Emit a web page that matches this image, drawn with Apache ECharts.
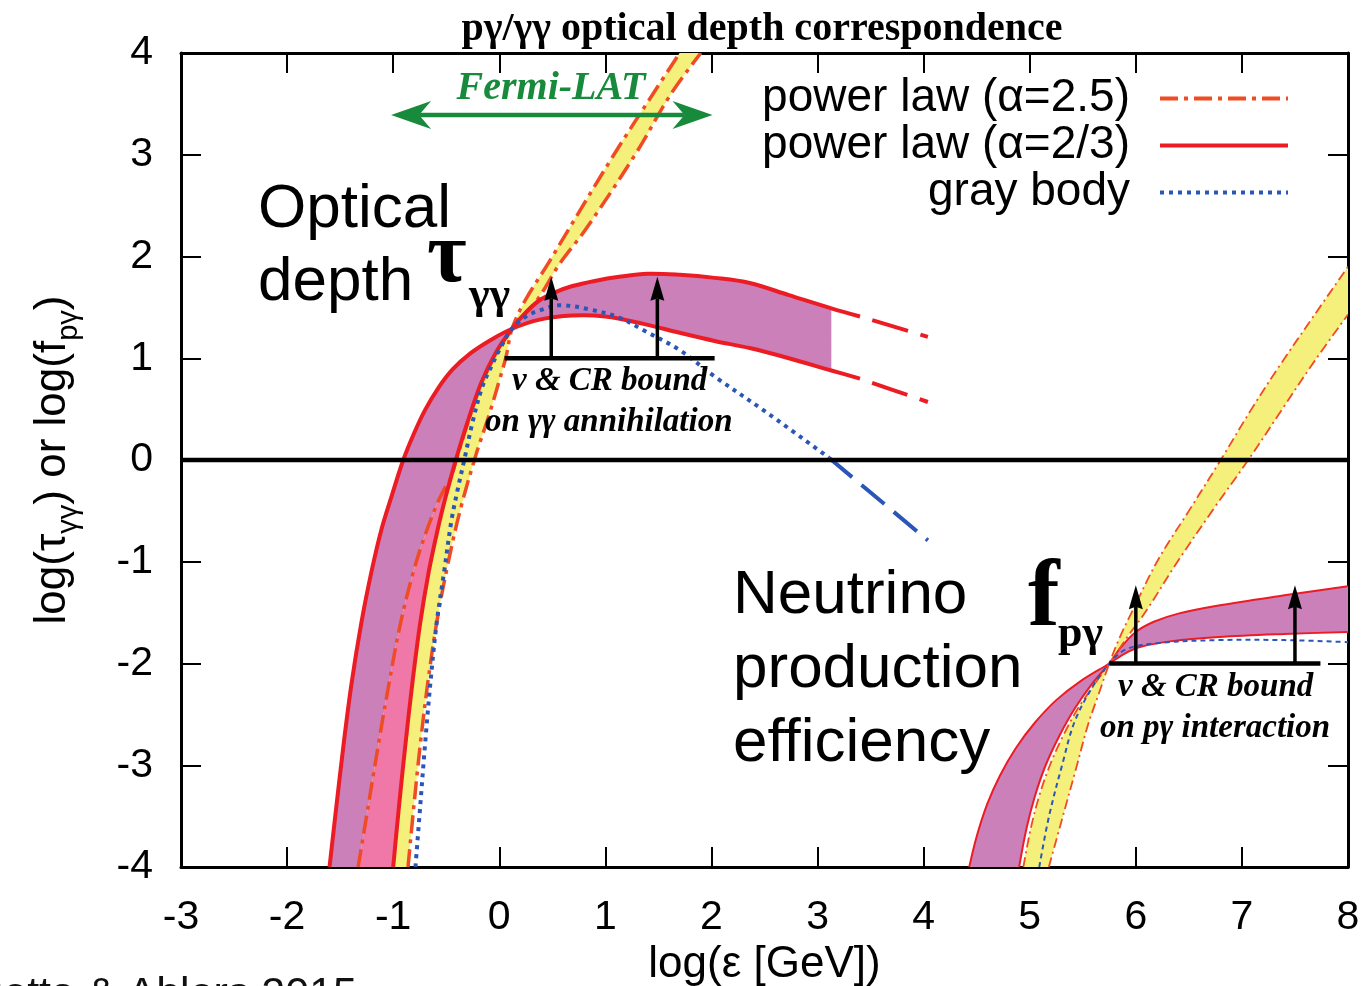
<!DOCTYPE html>
<html><head><meta charset="utf-8">
<script src="https://cdn.jsdelivr.net/npm/echarts@6/dist/echarts.min.js"></script>
<style>html,body{margin:0;padding:0;background:#fff}#c{width:1372px;height:986px}</style>
</head><body><div id="c"></div><script>
// ---------- axis ranges / ticks ----------
const xRange = [-3, 8];
const yRange = [-4, 4];
const tickStep = 1;

// ---------- optical depth tau_gg (left group) ----------
// power law alpha=2/3, two bounding curves (red solid)
const tauA = [[-1.60,-4],[-1.535,-3.4],[-1.468,-2.8],[-1.393,-2.2],[-1.30,-1.6],[-1.205,-1.1],[-1.11,-0.68],[-1.01,-0.34],[-0.905,0],[-0.80,0.27],[-0.70,0.49],[-0.58,0.70],[-0.44,0.89],[-0.27,1.05],[-0.08,1.18],[0.12,1.29],[0.38,1.38],[0.69,1.42],[1.0,1.41],[1.35,1.34],[1.70,1.25],[2.03,1.17],[2.36,1.10],[2.73,1.00],[3.13,0.88],[3.40,0.80]];
const tauB = [[-1.00,-4],[-0.945,-3.4],[-0.885,-2.8],[-0.82,-2.2],[-0.745,-1.6],[-0.665,-1.1],[-0.58,-0.68],[-0.50,-0.34],[-0.455,-0.17],[-0.41,0],[-0.30,0.37],[-0.17,0.76],[-0.03,1.06],[0.12,1.29],[0.25,1.45],[0.38,1.57],[0.53,1.65],[0.69,1.71],[0.90,1.76],[1.13,1.80],[1.40,1.83],[1.70,1.82],[2.03,1.79],[2.36,1.74],[2.73,1.62],[3.13,1.49],[3.40,1.41]];
const tauAext = [[3.40,0.80],[4.04,0.57]];
const tauBext = [[3.40,1.41],[4.04,1.21]];
const tauBandEnd = 3.13;
// power law alpha=2.5, two bounding curves (dash-dot)
const tauClow = [[-1.33,-4],[-1.235,-3.4],[-1.14,-2.8],[-1.04,-2.2],[-0.93,-1.6],[-0.81,-1.1],[-0.70,-0.74],[-0.59,-0.44],[-0.51,-0.27],[-0.455,-0.17],[-0.40,0.02],[-0.29,0.39],[-0.16,0.77],[-0.02,1.06],[0.12,1.29]];
const tauChigh = [[0.12,1.29],[0.355,1.57],[0.57,1.93],[0.81,2.26],[1.28,3.0],[1.62,3.6],[1.90,4.0]];
const tauDlow = [[-0.86,-4],[-0.805,-3.4],[-0.745,-2.8],[-0.675,-2.2],[-0.59,-1.6],[-0.49,-1.05],[-0.37,-0.5],[-0.22,0.05],[-0.10,0.43],[0.0,0.78],[0.065,1.02],[0.12,1.29]];
const tauDhigh = [[0.12,1.29],[0.245,1.57],[0.46,1.93],[0.65,2.26],[1.08,3.0],[1.45,3.6],[1.70,4.0]];
const pinkTop = -0.17;
// gray body (blue dotted) + its dashed extension
const tauGray = [[-0.79,-4],[-0.745,-3.4],[-0.70,-2.8],[-0.65,-2.2],[-0.59,-1.6],[-0.52,-1.1],[-0.45,-0.59],[-0.39,-0.28],[-0.33,0],[-0.25,0.38],[-0.16,0.72],[-0.07,0.93],[0.0,1.08],[0.12,1.29],[0.25,1.41],[0.38,1.47],[0.57,1.52],[0.85,1.48],[1.13,1.40],[1.35,1.28],[1.70,1.08],[2.03,0.82],[2.53,0.46],[3.11,0.02]];
const tauGrayExt = [[3.11,0.02],[3.50,-0.32],[4.04,-0.79]];

// ---------- neutrino production efficiency f_pg (right group) ----------
const fA = [[4.43,-4],[4.50,-3.7],[4.60,-3.38],[4.72,-3.1],[4.87,-2.83],[5.05,-2.58],[5.25,-2.36],[5.47,-2.18],[5.75,-2.0],[5.90,-1.90],[6.03,-1.84],[6.34,-1.78],[6.78,-1.74],[7.4,-1.71],[8.0,-1.69]];
const fB = [[4.90,-4],[4.97,-3.62],[5.05,-3.3],[5.15,-3.0],[5.28,-2.71],[5.42,-2.45],[5.58,-2.21],[5.75,-2.0],[5.86,-1.84],[6.0,-1.69],[6.17,-1.59],[6.40,-1.51],[6.78,-1.43],[7.4,-1.33],[8.0,-1.24]];
const fClow = [[4.94,-4],[5.01,-3.62],[5.09,-3.3],[5.19,-3.0],[5.31,-2.72],[5.45,-2.45],[5.60,-2.22],[5.75,-2.0]];
const fChigh = [[5.75,-2.0],[5.92,-1.74],[6.10,-1.48],[6.38,-1.02],[6.72,-0.5],[7.06,0],[7.38,0.5],[7.69,0.98],[8.0,1.43]];
const fDlow = [[5.18,-4],[5.31,-3.51],[5.44,-3.02],[5.55,-2.6],[5.65,-2.3],[5.75,-2.0]];
const fDhigh = [[5.75,-2.0],[5.85,-1.74],[5.96,-1.5],[6.21,-0.98],[6.50,-0.5],[6.80,0],[7.09,0.5],[7.37,0.95],[7.68,1.42],[8.0,1.90]];
const fGray = [[5.09,-4],[5.18,-3.51],[5.31,-2.98],[5.42,-2.58],[5.58,-2.25],[5.75,-2.0],[5.91,-1.86],[6.2,-1.80],[6.78,-1.77],[7.4,-1.77],[8.0,-1.79]];

// ---------- reference lines and bounds ----------
const zeroLine = [[-3,0],[8,0]];
const tauBound = [[0.05,1.0],[2.03,1.0]];
const fBound = [[5.75,-2.0],[7.74,-2.0]];
const tauArrows = [[0.49,1.0,0.49,1.80],[1.49,1.0,1.49,1.80]];
const fArrows = [[6.0,-2.0,6.0,-1.23],[7.5,-2.0,7.5,-1.23]];
const fermiArrow = [[-1.02,3.39,2.01,3.39]];

// ---------- names / labels ----------
const names = {pl25:'power law (α=2.5)', pl23:'power law (α=2/3)', gray:'gray body'};
const titleText = 'pγ/γγ optical depth correspondence';

// ---------- colors / styles ----------
const C = {red:'#ec1c24', dd:'#f04c24', blue:'#2a56b8', purple:'#cb80ba', pink:'#ef78a9', yellow:'#f5ef7b', green:'#178a3c'};
const DASHDOT = [18,6,4,6];
const DOT = [4,5];
const SM = 0.35;

function rev(a){ return a.slice().reverse(); }
function smoothPath(pts, s, moveFirst){
  const n = pts.length;
  let d = (moveFirst ? 'M' : 'L') + pts[0][0].toFixed(2) + ' ' + pts[0][1].toFixed(2);
  const cin = [], cout = [];
  for (let i = 0; i < n; i++){
    if (i === 0 || i === n-1){ cin[i] = pts[i]; cout[i] = pts[i]; continue; }
    const p = pts[i], a = pts[i-1], b = pts[i+1];
    const vx = b[0]-a[0], vy = b[1]-a[1];
    const l1 = Math.hypot(p[0]-a[0], p[1]-a[1]), l2 = Math.hypot(b[0]-p[0], b[1]-p[1]);
    const r = (l1+l2) > 0 ? l2/(l1+l2) : 0.5;
    cin[i] = [p[0]-vx*s*(1-r), p[1]-vy*s*(1-r)];
    cout[i] = [p[0]+vx*s*r, p[1]+vy*s*r];
  }
  for (let i = 1; i < n; i++){
    d += ' C' + cout[i-1][0].toFixed(2) + ' ' + cout[i-1][1].toFixed(2) + ' ' +
         cin[i][0].toFixed(2) + ' ' + cin[i][1].toFixed(2) + ' ' +
         pts[i][0].toFixed(2) + ' ' + pts[i][1].toFixed(2);
  }
  return d;
}
function curveS(points, stroke, width, dash, z, dashOffset){
  return {type:'custom', silent:true, animation:false, z:z, clip:true,
    data:[[points[0][0], points[0][1]]],
    renderItem:function(params, api){
      const px = points.map(function(p){ return api.coord(p); });
      const st = {fill:'none', stroke:stroke, lineWidth:width, lineCap:'butt', lineJoin:'round'};
      if (dash) { st.lineDash = dash; st.lineDashOffset = dashOffset || 0; }
      return {type:'path', shape:{pathData: smoothPath(px, SM, true)}, style:st};
    }};
}
function bandS(b1, b2, color, z){
  return {type:'custom', silent:true, animation:false, z:z, clip:true,
    data:[[b1[0][0], b1[0][1]]],
    renderItem:function(params, api){
      const p1 = b1.map(function(p){ return api.coord(p); });
      const p2 = rev(b2).map(function(p){ return api.coord(p); });
      return {type:'path', shape:{pathData: smoothPath(p1, SM, true) + ' ' + smoothPath(p2, SM, false) + ' Z'},
              style:{fill:color, stroke:'none'}};
    }};
}
function arrowS(list, o){
  return {type:'custom', silent:true, animation:false, z:o.z, clip:false,
    data:list, encode:{x:[0,2], y:[1,3]},
    renderItem:function(params, api){
      const p0 = api.coord([api.value(0), api.value(1)]);
      const p1 = api.coord([api.value(2), api.value(3)]);
      const dx=p1[0]-p0[0], dy=p1[1]-p0[1], L=Math.hypot(dx,dy);
      const ux=dx/L, uy=dy/L, nx=-uy, ny=ux;
      function head(tip, sx, sy){
        const bx=tip[0]-sx*o.len, by=tip[1]-sy*o.len;
        const mx=tip[0]-sx*o.len*(1-o.notch), my=tip[1]-sy*o.len*(1-o.notch);
        return {type:'polygon', shape:{points:[tip,[bx+nx*o.w,by+ny*o.w],[mx,my],[bx-nx*o.w,by-ny*o.w]]}, style:{fill:o.color}};
      }
      const back = o.len*(1-o.notch);
      const s0 = o.double ? [p0[0]+ux*back, p0[1]+uy*back] : p0;
      const s1 = [p1[0]-ux*back, p1[1]-uy*back];
      const children = [{type:'line', shape:{x1:s0[0],y1:s0[1],x2:s1[0],y2:s1[1]}, style:{stroke:o.color, lineWidth:o.lw}}, head(p1, ux, uy)];
      if (o.double) children.push(head(p0, -ux, -uy));
      return {type:'group', children:children};
    }};
}
// empty line series carrying the legend styles
function legendS(name, color, width, type){
  return {type:'line', name:name, data:[], symbol:'none', showSymbol:false, silent:true, animation:false,
    lineStyle:{color:color, width:width, type:type, cap:'butt'}, itemStyle:{color:color}};
}

const SANS = '"Liberation Sans", Arial, Helvetica, sans-serif';
const SERIF = '"Liberation Serif", "Times New Roman", serif';

function txt(text, x, y, font, fill, align){
  return {type:'text', x:x, y:y, z:50, silent:true,
    style:{text:text, font:font, fill:fill||'#000', align:align||'left', verticalAlign:'middle'}};
}

const chart = echarts.init(document.getElementById('c'), null, {renderer:'canvas'});
chart.setOption({
  animation:false,
  backgroundColor:'#fff',
  title:{text:titleText, left:757, top:5, textAlign:'center',
    textStyle:{fontFamily:SERIF, fontWeight:'bold', fontSize:40, color:'#000'}},
  grid:{left:181, right:24, top:53, bottom:119, containLabel:false, outerBoundsMode:'none'},
  legend:{data:[names.pl25, names.pl23, names.gray], orient:'vertical', right:82, top:75, align:'right',
    itemWidth:128, itemHeight:8, itemGap:0, padding:0, selectedMode:false,
    itemStyle:{opacity:0}, lineStyle:{width:4},
    textStyle:{fontFamily:SANS, fontSize:46, color:'#000', lineHeight:47, padding:[0,25,0,0]}},
  xAxis:[
    {type:'value', min:xRange[0], max:xRange[1], interval:tickStep, position:'bottom',
     name:'log(ε [GeV])', nameLocation:'middle', nameGap:64,
     nameTextStyle:{fontFamily:SANS, fontSize:44, color:'#000'},
     axisLine:{show:true, onZero:false, lineStyle:{color:'#000', width:3}},
     axisTick:{show:true, inside:true, length:20, lineStyle:{color:'#000', width:2}},
     axisLabel:{fontFamily:SANS, fontSize:41, color:'#000', margin:30},
     splitLine:{show:false}},
    {type:'value', min:xRange[0], max:xRange[1], interval:tickStep, position:'top',
     axisLine:{show:true, onZero:false, lineStyle:{color:'#000', width:3}},
     axisTick:{show:true, inside:true, length:20, lineStyle:{color:'#000', width:2}},
     axisLabel:{show:false}, splitLine:{show:false}}
  ],
  yAxis:[
    {type:'value', min:yRange[0], max:yRange[1], interval:tickStep, position:'left',
     name:'{m|log(τ}{s|γγ}{m|) or log(f}{s|pγ}{m|)}', nameLocation:'middle', nameGap:106, nameRotate:90,
     nameTextStyle:{fontFamily:SANS, fontSize:44, color:'#000',
       rich:{m:{fontFamily:SANS, fontSize:44, lineHeight:44, verticalAlign:'top', color:'#000'},
             s:{fontFamily:SANS, fontSize:29, lineHeight:29, verticalAlign:'top', padding:[23,0,0,0], color:'#000'}}},
     axisLine:{show:true, onZero:false, lineStyle:{color:'#000', width:3}},
     axisTick:{show:true, inside:true, length:20, lineStyle:{color:'#000', width:2}},
     axisLabel:{fontFamily:SANS, fontSize:41, color:'#000', margin:28},
     splitLine:{show:false}},
    {type:'value', min:yRange[0], max:yRange[1], interval:tickStep, position:'right',
     axisLine:{show:true, onZero:false, lineStyle:{color:'#000', width:3}},
     axisTick:{show:true, inside:true, length:20, lineStyle:{color:'#000', width:2}},
     axisLabel:{show:false}, splitLine:{show:false}}
  ],
  series:[
    legendS(names.pl25, C.dd, 4, DASHDOT),
    legendS(names.pl23, C.red, 4, 'solid'),
    legendS(names.gray, C.blue, 4, DOT),
    // fills
    bandS(tauA.filter(p=>p[0]<=tauBandEnd), tauB.filter(p=>p[0]<=tauBandEnd), C.purple, 1),
    bandS(tauClow, tauDlow, C.yellow, 2),
    bandS(tauChigh, tauDhigh, C.yellow, 2),
    bandS(tauClow.filter(p=>p[1]<=pinkTop), tauB.filter(p=>p[1]<=pinkTop), C.pink, 3),
    bandS(fA, fB, C.purple, 1),
    bandS(fClow, fDlow, C.yellow, 2),
    bandS(fChigh, fDhigh, C.yellow, 2),
    // left group curves
    curveS(tauClow.concat(tauChigh.slice(1)), C.dd, 3.5, DASHDOT, 5),
    curveS(tauDlow.concat(tauDhigh.slice(1)), C.dd, 3.5, DASHDOT, 5),
    curveS(tauA, C.red, 4, null, 5),
    curveS(tauB, C.red, 4, null, 5),
    curveS(tauGray, C.blue, 4, DOT, 5),
    curveS(tauAext, C.red, 4, [37,13], 5, 37),
    curveS(tauBext, C.red, 4, [37,13], 5, 37),
    curveS(tauGrayExt, C.blue, 4, [30,12], 5),
    // right group curves
    curveS(fA, C.red, 2, null, 5),
    curveS(fB, C.red, 2, null, 5),
    curveS(fClow.concat(fChigh.slice(1)), C.dd, 1.8, [10,4,2,4], 5),
    curveS(fDlow.concat(fDhigh.slice(1)), C.dd, 1.8, [10,4,2,4], 5),
    curveS(fGray, C.blue, 2, [5,4], 5),
    // zero line & bounds
    curveS(zeroLine, '#000', 4.5, null, 6),
    curveS(tauBound, '#000', 4.5, null, 7),
    curveS(fBound, '#000', 4.5, null, 7),
    arrowS(tauArrows, {z:8, color:'#000', lw:3.5, len:24, w:7, notch:0.1, double:false}),
    arrowS(fArrows, {z:8, color:'#000', lw:3.5, len:24, w:7, notch:0.1, double:false}),
    arrowS(fermiArrow, {z:8, color:C.green, lw:4.5, len:40, w:14, notch:0.3, double:true})
  ],
  graphic:[
    txt('Optical', 258, 210, '62px ' + SANS),
    txt('depth', 258, 283, '62px ' + SANS),
    txt('τ', 427, 259, 'bold 86px ' + SERIF),
    txt('γγ', 469, 297, 'bold 44px ' + SERIF),
    txt('Neutrino', 733, 596, '62px ' + SANS),
    txt('production', 733, 670, '62px ' + SANS),
    txt('efficiency', 733, 744, '62px ' + SANS),
    txt('f', 1028, 600, 'bold 95px ' + SERIF),
    txt('pγ', 1058, 635, 'bold 44px ' + SERIF),
    txt('ν & CR bound', 512, 381, 'bold italic 33px ' + SERIF),
    txt('on γγ annihilation', 485, 422, 'bold italic 33px ' + SERIF),
    txt('ν & CR bound', 1118, 687, 'bold italic 33px ' + SERIF),
    txt('on pγ interaction', 1100, 728, 'bold italic 33px ' + SERIF),
    txt('Fermi-LAT', 551, 89, 'bold italic 40px ' + SERIF, C.green, 'center'),
    txt('Murase, Guetta & Ahlers 2015', 357, 995, '43px ' + SANS, '#111', 'right')
  ]
});
</script></body></html>
